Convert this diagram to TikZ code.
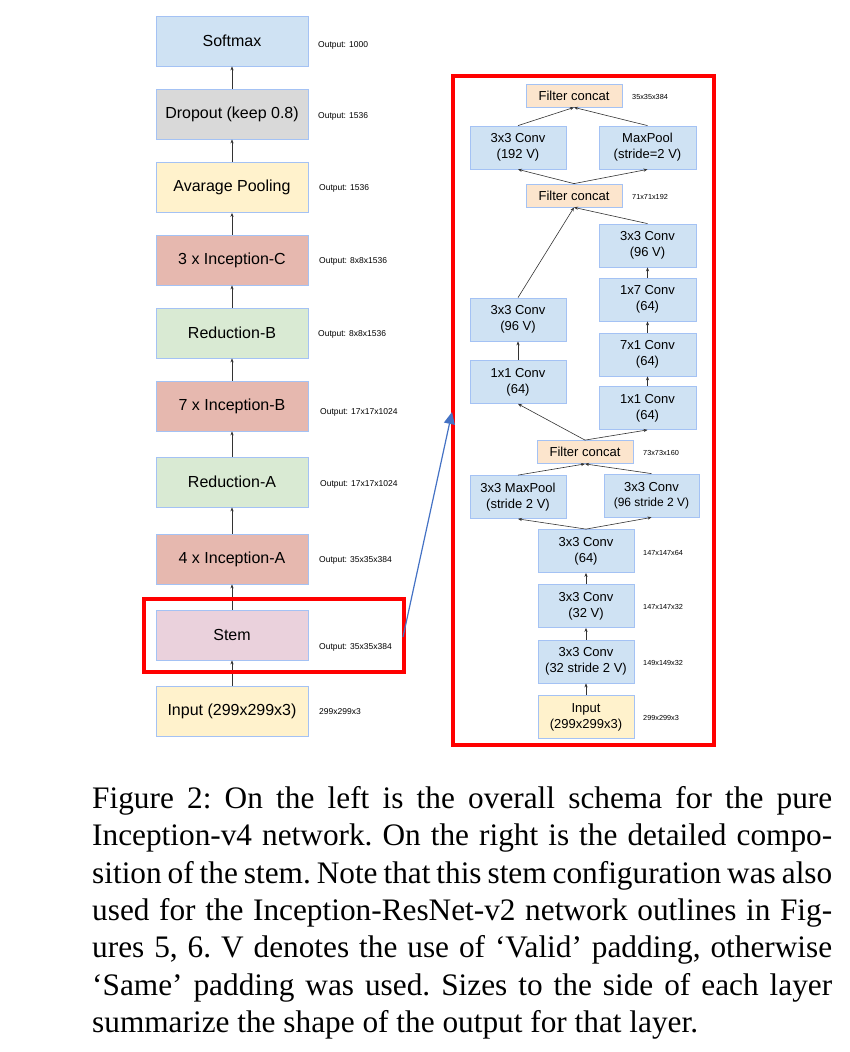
\documentclass[tikz,border=0pt]{standalone}
\usepackage{fontspec}
\setmainfont{Liberation Sans}
\newfontfamily\capfont{Liberation Serif}
\usepackage{xcolor}
\usetikzlibrary{arrows.meta, positioning, calc}
\definecolor{BoxBlue}{HTML}{CFE2F3}
\definecolor{BoxEdge}{HTML}{A4C2F4}
\definecolor{DropGrey}{HTML}{D9D9D9}
\definecolor{PoolYellow}{HTML}{FFF2CC}
\definecolor{IncepRed}{HTML}{E6B8AF}
\definecolor{ReduGreen}{HTML}{D9EAD3}
\definecolor{StemPink}{HTML}{EAD1DC}
\definecolor{ConcatOrange}{HTML}{FCE5CD}
\definecolor{ZoomBlue}{HTML}{4472C4}

\begin{document}
\begin{tikzpicture}[x=1pt, y=-1pt, >={Stealth[length=4pt, width=3.2pt]},
    layer/.style={draw=BoxEdge, line width=0.8pt, minimum width=152pt, minimum height=50pt,
        inner sep=0pt, font=\fontsize{16}{18}\selectfont},
    conv/.style={draw=BoxEdge, fill=BoxBlue, line width=0.8pt, minimum width=96pt,
        minimum height=43pt, inner sep=0pt, align=center, font=\fontsize{13}{16}\selectfont},
    concat/.style={conv, fill=ConcatOrange, minimum height=23pt},
    outlabel/.style={anchor=west, inner sep=0pt, font=\fontsize{8.5}{10}\selectfont},
    sizelabel/.style={anchor=west, inner sep=0pt, font=\fontsize{7.3}{9}\selectfont},
    link/.style={->, line width=0.6pt, draw=black!80},
    hilite/.style={draw=red, line width=4pt}]
    \useasboundingbox (0,0) rectangle (850,1052);

    % Overall schema (left)
    \node[layer, fill=BoxBlue] (softmax) at (232,41) {Softmax};
    \node[layer, fill=DropGrey] (dropout) at (232,114) {Dropout (keep 0.8)};
    \node[layer, fill=PoolYellow] (avgpool) at (232,187.5) {Avarage Pooling};
    \node[layer, fill=IncepRed] (incepC) at (232,260) {3 x Inception-C};
    \node[layer, fill=ReduGreen] (reduB) at (232,333) {Reduction-B};
    \node[layer, fill=IncepRed] (incepB) at (232,406) {7 x Inception-B};
    \node[layer, fill=ReduGreen] (reduA) at (232,482) {Reduction-A};
    \node[layer, fill=IncepRed] (incepA) at (232,559) {4 x Inception-A};
    \node[layer, fill=StemPink] (stem) at (232,635) {Stem};
    \node[layer, fill=PoolYellow] (input) at (232,711) {Input (299x299x3)};

    \node[outlabel] (outsoftmax) at (318,45) {Output: 1000};
    \node[outlabel] (outdropout) at (318,116) {Output: 1536};
    \node[outlabel] (outavgpool) at (319,188) {Output: 1536};
    \node[outlabel] (outincepC) at (319,261) {Output: 8x8x1536};
    \node[outlabel] (outreduB) at (318,334) {Output: 8x8x1536};
    \node[outlabel] (outincepB) at (320,412) {Output: 17x17x1024};
    \node[outlabel] (outreduA) at (320,484) {Output: 17x17x1024};
    \node[outlabel] (outincepA) at (319,560) {Output: 35x35x384};
    \node[outlabel] (outstem) at (319,647) {Output: 35x35x384};
    \node[outlabel] (outinput) at (319,712) {299x299x3};

    \foreach \a/\b in {input/stem, stem/incepA, incepA/reduA, reduA/incepB, incepB/reduB,
        reduB/incepC, incepC/avgpool, avgpool/dropout, dropout/softmax}
        \draw[link] (\a.north) -- (\b.south);

    % Stem in detail (right)
    \node[concat] (concatC) at (574,95.5) {Filter concat};
    \node[conv] (convA) at (518,147.5) {3x3 Conv\\(192 V)};
    \node[conv, minimum width=97pt] (poolA) at (647.5,147.5) {MaxPool\\(stride=2 V)};
    \node[concat] (concatB) at (574,195.5) {Filter concat};
    \node[conv, minimum width=97pt] (convR4) at (647.5,245.5) {3x3 Conv\\(96 V)};
    \node[conv, minimum width=97pt] (convR3) at (647.5,299.5) {1x7 Conv\\(64)};
    \node[conv, minimum width=97pt] (convR2) at (647.5,354.5) {7x1 Conv\\(64)};
    \node[conv, minimum width=97pt] (convR1) at (647.5,408) {1x1 Conv\\(64)};
    \node[conv] (convL2) at (518,319.5) {3x3 Conv\\(96 V)};
    \node[conv] (convL1) at (518,382) {1x1 Conv\\(64)};
    \node[concat] (concatA) at (585,452) {Filter concat};
    \node[conv] (poolS) at (518,497) {3x3 MaxPool\\(stride 2 V)};
    \node[conv, minimum width=95pt] (convS) at (651.5,495.5) {3x3 Conv\\[-1pt]{\fontsize{12}{14}\selectfont(96 stride 2 V)}};
    \node[conv] (conv64) at (586,551) {3x3 Conv\\(64)};
    \node[conv] (conv32v) at (586,606) {3x3 Conv\\(32 V)};
    \node[conv] (conv32s) at (586,661.5) {3x3 Conv\\(32 stride 2 V)};
    \node[conv, fill=PoolYellow] (stemin) at (586,717) {Input\\(299x299x3)};

    \node[sizelabel] (szC) at (632,97) {35x35x384};
    \node[sizelabel] (szB) at (632,197) {71x71x192};
    \node[sizelabel] (szA) at (643,453) {73x73x160};
    \node[sizelabel] (sz64) at (643,553) {147x147x64};
    \node[sizelabel] (sz32v) at (643,607) {147x147x32};
    \node[sizelabel] (sz32s) at (643,663) {149x149x32};
    \node[sizelabel] (szin) at (643,718) {299x299x3};

    \foreach \a/\b in {stemin/conv32s, conv32s/conv32v, conv32v/conv64, conv64/poolS, conv64/convS,
        poolS/concatA, convS/concatA, concatA/convL1, concatA/convR1, convL1/convL2,
        convR1/convR2, convR2/convR3, convR3/convR4, convL2/concatB, convR4/concatB,
        concatB/convA, concatB/poolA, convA/concatC, poolA/concatC}
        \draw[link] (\a.north) -- (\b.south);

    % Highlight and zoom arrow
    \draw[hilite] (143.5,599) rectangle (403.5,672);
    \draw[hilite] (453,76) rectangle (713.5,744.5);
    \coordinate (zoomfrom) at (403,637);
    \coordinate (zoomto) at (452,412);
    \draw[-{Triangle[length=12pt, width=11pt]}, ZoomBlue, line width=1.2pt] (zoomfrom) -- (zoomto);

    % Caption
    \node[anchor=north west, inner sep=0pt, text width=740pt, align=justify,
        font=\capfont\fontsize{31.3}{37.4}\selectfont\frenchspacing] (caption) at (92,786)
        {Figure 2: On the left is the overall schema for the pure\linebreak
        Inception-v4 network. On the right is the detailed compo-\linebreak sition
        of the stem. Note that this stem configuration was also\linebreak
        used for the Inception-ResNet-v2 network outlines in Fig-\linebreak ures
        5, 6. V denotes the use of ‘Valid’ padding, otherwise\linebreak
        ‘Same’ padding was used. Sizes to the side of each layer\linebreak
        summarize the shape of the output for that layer.};
\end{tikzpicture}
\end{document}
